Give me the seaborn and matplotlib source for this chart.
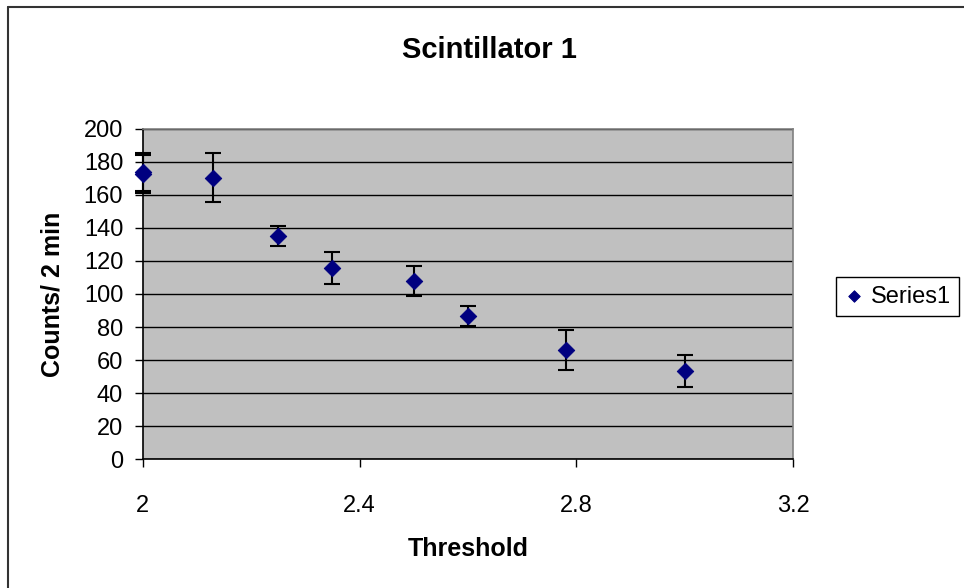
import pandas as pd
import seaborn as sns
import matplotlib.pyplot as plt
from matplotlib.lines import Line2D

# values
threshold = [2.0, 2.0, 2.13, 2.25, 2.35, 2.5, 2.6, 2.78, 3.0]
counts = [174, 172.5, 170.5, 135, 115.5, 108, 86.5, 66, 53.5]
err = [11.5, 11.5, 15, 6.2, 9.7, 9.1, 6.1, 12.2, 9.7]

df = pd.DataFrame({"Threshold": threshold, "Counts": counts, "err": err})

sns.set_style("ticks", {"axes.facecolor": "#C0C0C0"})
plt.rcParams["font.family"] = ["Liberation Sans", "DejaVu Sans"]
plt.rcParams["text.color"] = "black"
plt.rcParams["axes.labelcolor"] = "black"
plt.rcParams["xtick.color"] = "black"
plt.rcParams["ytick.color"] = "black"

fig = plt.figure(figsize=(9.64, 5.88), dpi=100)
ax = fig.add_axes([0.148, 0.219, 0.675, 0.562])

ax.errorbar(df["Threshold"], df["Counts"], yerr=df["err"], fmt="none",
            ecolor="black", elinewidth=1.5, capsize=5.5, capthick=1.5,
            zorder=3, clip_on=False)
sns.scatterplot(data=df, x="Threshold", y="Counts", marker="D", s=70,
                color="#000080", edgecolor="#000080", label="Series1", ax=ax,
                zorder=4, clip_on=False)

ax.set_xlim(2, 3.2)
ax.set_ylim(0, 200)
ax.set_xticks([2, 2.4, 2.8, 3.2])
ax.set_xticklabels(["2", "2.4", "2.8", "3.2"])
ax.set_yticks(range(0, 201, 20))
ax.yaxis.grid(True, color="black", linewidth=1)
ax.set_axisbelow(True)
for s in ax.spines.values():
    s.set_color("#808080")
    s.set_linewidth(1.2)
ax.spines["left"].set_color("black")
ax.spines["bottom"].set_color("black")
ax.tick_params(axis="both", labelsize=17, length=6, width=1, color="black")
ax.tick_params(axis="y", pad=8)
ax.tick_params(axis="x", pad=20)

ax.set_xlabel("Threshold", fontsize=18, fontweight="bold", labelpad=14)
ax.set_ylabel("Counts/ 2 min", fontsize=18, fontweight="bold", labelpad=14)
fig.text(0.508, 0.915, "Scintillator 1", ha="center", va="center",
         fontsize=21, fontweight="bold")

leg = ax.legend(loc="center left", bbox_to_anchor=(1.066, 0.492), frameon=True,
                fancybox=False, edgecolor="black", facecolor="white",
                framealpha=1, fontsize=17, handlelength=0.8, handletextpad=0.3,
                borderpad=0.35, markerscale=0.7, borderaxespad=0)
leg.get_frame().set_linewidth(1)

# chart outer border (only left and top edges visible in the frame)
fig.add_artist(Line2D([8 / 964, 8 / 964], [0, 1 - 6.5 / 588],
                      transform=fig.transFigure, color="#333333", linewidth=1.5))
fig.add_artist(Line2D([8 / 964, 1], [1 - 6.5 / 588, 1 - 6.5 / 588],
                      transform=fig.transFigure, color="#333333", linewidth=1.5))

fig.savefig("out.png", dpi=100)
